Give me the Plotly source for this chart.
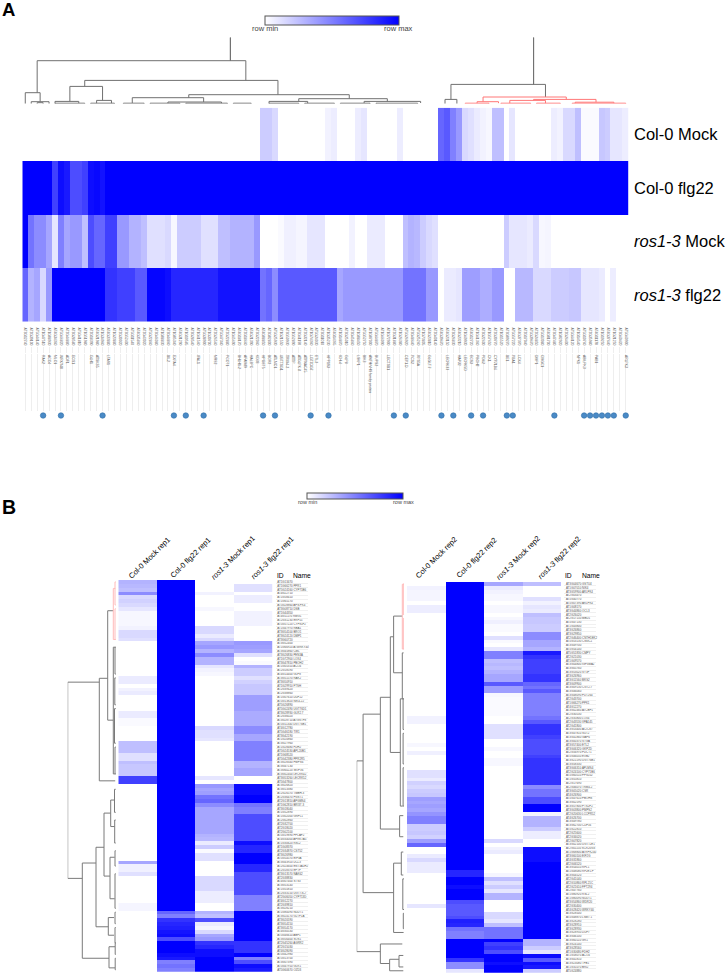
import plotly.graph_objects as go

W, H = 726, 973
BLUE = [[0, "#ffffff"], [1, "#0000ff"]]
FONT = "Liberation Sans"

# ---------- Panel A values (102 genes x 4 conditions) ----------
A_COL_MOCK = [0,0,0,0,0,0,0,0,0,0,0,0,0,0,0,0,0,0,0,0,
              0,0,0,0,0,0,0,0,0,0,0,0,0,0,0,0,0,0,0,0,
              .2,.2,.15,0,0,0,0,0,0,0,0,.05,.07,0,0,0,.07,.1,0,0,
              0,0,0,.07,0,0,0,0,0,0,.6,.65,.5,.4,.15,.12,.08,.05,.03,.25,
              .25,0,.1,0,0,0,0,0,0,.07,.05,.15,.15,.25,.02,.02,.02,.22,.2,.1,
              .1,.07]
A_COL_FLG = [1,1,1,1,1,.75,.95,.9,.7,.7,.75,.95,.97,.93,1,1,1,1,1,1]+[1]*82
A_ROS_MOCK = [1,.55,.45,.45,.35,.1,.5,.35,.4,.4,.25,.7,.6,.6,.75,.75,.4,.4,.3,.3,
              .25,.12,.12,.12,.15,.03,.2,.2,.2,.2,.12,.12,.12,.25,.25,.3,.3,.3,.3,.4,
              0,0,0,.02,.06,.06,.04,.04,.1,.1,.1,0,0,0,0,.05,0,0,.08,.08,
              .08,0,0,0,.25,.3,.28,.2,.15,.12,0,0,0,0,0,0,0,0,0,0,
              0,.2,.1,.1,.1,.08,.15,.03,.04,0,0,0,0,0,0,0,0,0,0,0,
              0,0]
A_ROS_FLG = [.6,.3,.35,.15,.4,1,1,1,1,1,1,1,1,1,.8,.8,.75,.75,.75,.65,
             .65,.98,.98,.98,.95,.85,.85,.85,.85,.85,.85,.85,.85,.93,.93,.93,.93,.93,.93,.93,
             .55,.6,.45,.65,.65,.65,.65,.65,.65,.65,.65,.65,.65,.35,.4,.4,.4,.4,.4,.4,
             .4,.4,.4,.4,.55,.55,.55,.55,.4,.4,0,.08,.08,.1,.38,.38,.38,.32,.32,.4,
             .4,0,0,.28,.28,.28,.15,.15,.15,.2,.2,.2,.22,.22,.1,.1,.1,.08,0,.07,
             0,0]
A_ROWS = ["Col-0 Mock", "Col-0 flg22", "<i>ros1-3</i> Mock", "<i>ros1-3</i> flg22"]
A_IDS = ("AT3G12740 AT2G39100 AT5G44140 AT1G47510 AT1G08930 AT4G34360 AT5G66820 AT2G44880 AT3G28580 AT5G41810 "
         "AT1G51980 AT2G18390 AT4G21980 AT1G34960 AT4G33880 AT1G23880 AT2G30020 AT3G52400 AT5G11540 AT4G35860 "
         "AT2G43020 AT5G22860 AT3G46080 AT1G08830 AT3G44860 AT1G05340 AT4G31290 AT1G10585 AT3G28540 AT1G61560 "
         "AT5G38900 AT1G30700 AT2G26560 AT5G67340 AT2G22880 AT1G65690 AT4G18170 AT2G18660 AT4G21390 AT3G22060 "
         "AT4G08850 AT3G02800 AT5G25930 AT1G21550 AT3G50930 AT1G52890 AT3G61190 AT2G32140 AT1G74360 AT5G24030 "
         "AT3G11010 AT1G35230 AT4G14365 AT1G14870 AT3G25010 AT3G45860 AT1G08450 AT5G52750 AT1G07000 AT5G64870 "
         "AT1G66090 AT1G72900 AT2G31880 AT1G26380 AT5G26920 AT3G48640 AT5G25260 AT1G73805 AT4G23810 AT2G40140 "
         "AT4G39670 AT4G23150 AT3G26830 AT4G23210 AT1G69930 AT4G12720 AT1G61360 AT3G22600 AT1G57650 AT2G30770 "
         "AT1G15520 AT3G09270 AT5G57220 AT4G37370 AT2G17040 AT5G39670 AT2G24850 AT5G13080 AT4G01700 AT3G47480 "
         "AT1G02920 AT2G26400 AT5G64120 AT1G14540 AT5G10760 AT2G35980 AT4G11170 AT1G19250 AT4G37640 AT1G21250 "
         "AT3G60420 AT5G60900").split()
A_NAME_COLS = [3,4,5,6,7,8,11,12,14,24,25,29,32,34,36,37,38,39,40,41,42,43,44,45,46,47,48,49,
               51,53,54,56,57,58,59,61,64,65,66,68,71,73,74,75,76,77,78,79,81,82,83,86,87,93,94,96,101]
A_NAMES = ["RAK2","ACO4","MLO1","WRKY40","ADF1","EOS1","GLH1","ATSKS5","LTAS1","BIL2","EXPA4","IFAL1",
           "MRS2","PCOT1","BHLH1-2","AFAM89","HAL3PC","KD33","HPGST5","BOR2","ATLMO1","UBTTSG1","TRIM4-2",
           "ATTP","ATGLPK 8","ATPNAC45","LGT7DG7","ETL2","HPP1S3","ICH-4","GLP8","LSKP1","BIK3",
           "ANTH/VHS family protein","BUPS2","LECTSB1","OEP1.D","PCS2","RPS5A","GLGLT.7","LECRK33","HAP32",
           "LECRK5D","ECS3","PBOH2","PDX2","CK1","CYP71B6","BE1","PBA1","LOX4","DMP1","CMGC1","NPK1",
           "ABILPK3","PAB1","ARLPK3"]
A_DOT_COLS = [3,6,13,25,27,30,40,42,48,51,62,64,70,72,75,77,81,82,89,94,95,96,97,98,99,101]

# Linkage brackets: (left leaf, right leaf, height, left child height, right child height)
A_TREE_GRAY = [(34.5,34.5,66.3,43,43),(2,37.1,43,11,23.3),(0,2.5,11,0,2),(1,4,2,0,0),(2,3,1,0,0),
               (10,42.5,23.3,17.3,9),(7.5,13,17.3,2.3,3.3),(5,9,2.3,.5,.5),(12,14.5,3.3,.5,.5),
               (27.5,54.5,9,6,5),(18,30,6,.7,1.7),(24,33,1.7,.5,.5),(46,60.9,5,2.3,2.3),(41,47.5,2.3,.5,.5),
               (57,66.5,2.3,.7,.7),(85.5,85.5,66.3,19.3,19.3),(71.6,87.5,19.3,4.3,6.7),(70.6,72.6,4.3,0,0),
               (5,10,.5,0,0),(11,15,.5,0,0),(16.5,20,.5,0,0),(21,26,.5,0,0),(27,34,.5,0,0),(35,38,.5,0,0),
               (41,46,.5,0,0),(47,52,.5,0,0),(53,58,.5,0,0),(59,66,.5,0,0)]
A_TREE_RED = [(77,91,6.7,2,4.3),(76,79.6,2,.5,.5),(85.5,96,4.3,3.3,1.5),(81.5,87.5,3.3,.5,.5),(92.5,99,1.5,.5,.5),
              (74,78,.5,0,0),(80,85,.5,0,0),(86,90,.5,0,0),(92,101,.5,0,0)]

# ---------- Panel B values ----------
B1_COL_MOCK = [.3,.28,.25,.45,.15,.18,.15,.1,.03,.03,.03,.03,.05,.15,.15,.12,0,0,0,0,
               0,0,0,0,0,.08,.08,0,.05,.08,0,0,0,0,.08,.08,.02,.02,0,0,
               0,0,.25,.25,.25,.12,.12,.25,.22,.22,.22,.75,.75,0,0,0,0,0,0,0,
               0,0,0,0,0,0,0,0,0,0,0,0,0,.35,.06,.06,.12,0,0,0,
               0,0,0,0,.04,.04,0,0,0,0,0,0,0,0,0,0,0,0,0,0,
               0,0]
B1_COL_FLG = [1]*86 + [.6,.5,.8,.85,.88,.92,.95,.7,1,1,1,.95,.9,.5,.55,.5]
B1_ROS_MOCK = [0,0,0,.05,0,0,0,.03,0,0,0,0,.15,.15,.08,.15,.35,.4,.3,.45,
               .3,.3,.1,.05,.03,0,0,0,0,0,0,0,0,0,0,0,0,0,.15,.12,
               .12,.1,0,0,0,0,0,0,0,0,0,.1,0,.4,.35,.38,.55,.6,.45,.35,
               .35,.35,.35,.35,.35,.35,.3,.28,.08,.2,.02,.12,.12,0,0,0,0,.15,.15,.15,
               .15,.07,.07,.07,0,0,.3,.25,.7,.08,.04,.15,.35,.4,.8,.85,.95,.95,1,1,
               1,1]
B1_ROS_FLG = [0,.12,.12,0,.07,.07,0,0,.05,.05,.05,.05,0,0,0,0,.4,.38,.35,.12,
              0,.02,.3,.2,.2,.12,.18,.22,.22,.22,.38,.38,.38,.38,.33,.33,.33,.33,.45,.45,
              .35,.35,.5,.5,.5,.5,.5,.3,.3,.35,.35,0,0,.95,.95,.95,1,1,.55,.5,
              .5,.7,.7,.7,.7,.7,.7,.7,.95,.85,.85,1,1,1,.85,.85,.7,.7,.7,.7,
              .7,.7,.5,.5,.5,.5,1,1,1,1,1,1,1,1,.8,.8,.8,1,.5,.7,
              .95,.9]
B2_COL_MOCK = [0,.05,.04,.04,.04,0,.07,.07,0,0,0,0,0,0,0,0,0,0,0,0,
               0,0,0,0,0,0,0,0,0,0,0,0,0,0,0,.05,.05,0,0,0,
               0,0,.03,0,.06,0,0,0,0,.12,.12,.08,.18,.15,.2,.22,.38,.35,.38,.35,
               .42,.5,.5,.2,.2,.22,.18,.38,.6,0,0,.08,.15,.08,.08,.08,0,0,0,0,
               0,0,0,0,.1,0,0,0,0,0,0,0,0,0,0,0,0,0,0,0,
               0,0]
B2_COL_FLG = [1]*75 + [.85,.85,1,1,.95,1,1,1,.7,.65,.65,.65,.7,.88,.85,.55,.5,.5,1,1,1,1,1,.8,.45,.45,.1]
B2_ROS_MOCK = [.35,.08,.05,.03,.03,0,.03,.03,0,.03,.06,.02,.02,0,.12,.02,0,.1,.5,.5,
               .25,.28,.25,.3,.35,.35,.65,.38,.38,.03,.02,.02,.02,.02,.02,0,0,.12,.12,.12,
               .12,0,0,.03,0,0,.03,.03,0,0,0,0,0,0,0,0,0,0,0,0,
               0,0,0,0,0,0,0,.15,0,.05,.08,0,0,0,0,0,.04,.25,.12,.2,
               .1,.3,.3,0,0,0,.15,.15,.1,.25,.55,.55,.55,1,.75,.8,.7,1,1,.95,
               1,1]
B2_ROS_FLG = [.25,0,0,0,.12,.05,.1,.08,.25,.22,.22,.2,.2,.45,.45,.35,.35,.3,.9,.8,
              .75,.75,.75,.75,.8,.8,.6,.55,.65,.5,.5,.5,.5,.5,.5,.55,.65,.8,.8,.8,
              .75,.7,.7,.7,.7,.75,.8,.8,.8,.8,.8,.8,.8,.45,.55,.55,.7,.7,1,1,
              .05,.3,.3,.3,.2,.07,.07,0,0,.95,.95,.95,.95,1,1,1,1,1,1,1,
              1,1,1,1,1,1,1,1,1,1,1,1,1,.3,.3,.2,.1,.95,.65,.95,
              .9,.2]
B_COLS1 = ["Col-0 Mock rep1", "Col-0 flg22 rep1", "<i>ros1-3</i> Mock rep1", "<i>ros1-3</i> flg22 rep1"]
B_COLS2 = ["Col-0 Mock rep2", "Col-0 flg22 rep2", "<i>ros1-3</i> Mock rep2", "<i>ros1-3</i> flg22 rep2"]
B1_IDS = ["AT1G13470","AT1G66270 PPR1","AT5G24160 CYP71B6","AT4G22710","AT1G58410","AT1G65170","AT5G28860 APS.PK4",
 "AT3G08710 DSB","AT1G44350","AT4G11170 RMG1","AT2G31230 ERF15","AT5G57220 CYP81F2","AT1G47970 RBA1","AT3G54100 BRO1",
 "AT3G24120 DMP1","AT3G60720","AT3G52400","AT1G66920 ATWRKY40","AT3G45860 CML","AT3G26830 PEN3A","AT1G72900 LOX4",
 "AT3G47810 PBOH2","AT1G05310 ACO4","AT2G18590","AT4G14400 GLP8","AT3G51570 RAK2","AT3G50910","AT1G29910 FTSH",
 "AT2G39420","AT2G38860","AT1G07610 DUF22","AT5G13820 NIK4-22","AT5G26890","AT5G02490 UGT76D1","AT3G28930 GLR2.7",
 "AT2G36020","AT3G28710 ATGSTF8","AT5G11340 UGT76B1","AT4G12780","AT5G46180 TIR1","AT3G42190","AT1G20860",
 "AT3G27960","AT1G28480 FDH2","AT5G24530 APL20B1","AT1G68520","AT5G42380 PPR2R5","AT3G28340 PMPS6","AT3G47130",
 "AT3G60220 SKIP36","AT3G02400 LECRK42","AT3G53260 LECRK52","AT5G47800","AT3G26820","AT3G13380","AT2G26570 TMBH-3",
 "AT2G36470 PGST1","AT2G13810 APGMS4","AT1G62810 BRI37-3","AT3G18040","AT1G52890","AT1G02000 GRPL1","AT2G02860",
 "AT2G32700","AT2G18020","AT2G02100","AT5G19890 PPLAP2","AT4G34000 APRK7A5","AT1G30620 RSL2","AT1G08370","AT2G34870 CST52",
 "AT3G26980","AT5G54570 EIF3A","AT3G43920 DCL3","AT2G24600 ENT3A1H2","AT2G18370 EFTF","AT3G13570 NAK62","AT2G38830",
 "AT4G07400 STS3","AT3G53140","AT1G55810","AT2G33150 UGT73C7","AT2G06050 CYP713D","AT4G12270","AT2G39810","AT3G28210",
 "AT1G80090 NUDT1","AT3G24170 G2TF1A","AT3G20590","AT3G54150","AT3G54170","AT4G30530","AT5G46610 ABF1","AT3G56400 SOS1",
 "AT2G45260 AGRR2","AT2G15030","AT4G28090","AT5G42980","AT5G13700","AT3G07390","AT5G47910 GLR1","AT5G60670 OZD3"]
B2_IDS = ["AT3G04670 GSTU4","AT1G07010 NIK4","AT3G59900 ARLPK4","AT2G03470","AT5G40770","AT5G07390 ARLPK4","AT1G08170",
 "AT3G44860 OCL3","AT2G26020","AT2G17150 MBD1","AT5G47130","AT1G43800","AT3G26860","AT3G29850","AT2G46400 CNTH1EK2",
 "AT5G53130 CNGC1","AT3G49700","AT5G54140","AT5G51830 CMPY","AT2G21030","AT1G09570","AT3G04800 IGF3MA2","AT3G05760",
 "AT3G53020 SY3F","AT3G26960","AT3G11560 MKS2","AT3G09900","AT3G09130 CGT2.7","AT3G46060","AT3G48090 PDT264","AT2G43700",
 "AT1G66270 PPK1","AT4G12270","AT3G02460 ATCBP1","AT2G30530","AT2G35800 LOX4","AT2G43530 VPA145","AT2G41800",
 "AT3G53400 AT2CS7","AT3G47810 SUT2","AT3G41860 GAP6","AT3G00370 STGA","AT3G57400 ETL2","AT3G06320 GKP2D","AT2G56970 PDCT1",
 "AT5G46050 EXB2","AT3G21590 UGT76B1","AT3G58330","AT3G06310 APLMS4","AT2G24100 CYP71B6","AT5G60510 PPS102","AT1G55810",
 "AT2G17690","AT2G46070 TRM4-2","AT3G05020 CSR","AT4G26900","AT5G47610 PBOHS","AT3G02590","AT3G57800 PTS2P2","AT3G03800 PMPS2",
 "AT2G20630 LCCPR52","AT4G26700","AT3G49780","AT3G62700 CDF16","AT5G22810","AT2G25600","AT2G34020","AT2G07820",
 "AT3G02100 UGT72E1","AT2G01150 SCR20G3","AT1G68800 ATRPK240","AT3G60100 EIF2G","AT4G31860","AT2G06520","AT3G54010 RPL1",
 "AT1G48080 RF2E1.P","AT3G04520","AT2G41040","AT2G10860 RPL21C","AT2G21610 FPT294","AT2G47760","AT1G80920 RSL2",
 "AT1G80090 NUDT1","AT3G54860 WDR20","AT2G30400","AT4G28420 WRKY40","AT3G28500","AT5G48870 LSM7.1","AT3G28280","AT3G28910",
 "AT3G28930","AT3G28950 DUF7","AT3G46100","AT3G60110 GR1","AT3G24140","AT3G28560","AT1G30680 FDH2","AT1G58070 ACO4",
 "AT3G41810","AT3G23080 TFB1","AT1G31070 BRI2","AT5G24880"]
B1_TREE_GRAY = [(26.1,77.2,48.3,16.7,33.7),(25.1,51.8,16.7,8.3,.8),(7.5,36,8.3,2.7,2.7),(17,50,2.7,.7,.7),
                (17,24,1,.2,.2),(25,32,1.2,.2,.2),(33,42,1.5,.2,.2),(43,50,1,.2,.2),
                (73.2,98,33.7,20,7),(69.1,89.8,20,12,7.7),(60.2,76.6,12,5.3,6),(56.8,63.7,5.3,1.5,1.5),
                (71.7,82.5,6,1.3,1.3),(87.4,92,7.7,2,2),(95,100.5,7,1,1),(54,60,1.5,.3,.3),(62,68,1.3,.3,.3),
                (70,74,1,.3,.3),(76,85,1,.3,.3),(86,89,1,.3,.3),(90,94,1,.3,.3),(94,97,.8,.2,.2),(98,101,.8,.2,.2)]
B1_TREE_RED = [(1.7,15,2.7,.7,.7),(0,6,1,.2,.2),(7,15,1,.2,.2)]
B2_TREE_GRAY = [(46.2,96,47.7,41.3,24),(34,80.6,41.3,24,10.7),(29.6,64,24,14,4.7),(13.8,44,14,10.7,4),
                (8.4,23.2,10.7,2,2),(18,30,2,.7,.7),(30,58,4,1.5,1.5),(60.5,66,4.7,1,1),(72.9,91,10.7,3,.7),
                (70,76,3,1,1),(77,85,1.5,.3,.3),(86,90,1,.3,.3),(94,99.1,24,2,14.7),(98,101,14.7,5.3,1),(97,100,5.3,1,1),
                (30,38,1.2,.3,.3),(39,47,1.2,.3,.3),(48,58,1.2,.3,.3)]
B2_TREE_RED = [(.1,17,2,.7,.7),(0,8,1,.2,.2),(9,17,1,.2,.2)]

for arr in (A_COL_MOCK, A_COL_FLG, A_ROS_MOCK, A_ROS_FLG, A_IDS, B1_COL_MOCK, B1_COL_FLG, B1_ROS_MOCK, B1_ROS_FLG,
            B2_COL_MOCK, B2_COL_FLG, B2_ROS_MOCK, B2_ROS_FLG, B1_IDS, B2_IDS):
    assert len(arr) == 102, len(arr)
assert len(A_NAME_COLS) == len(A_NAMES)


def dx(a, b):
    return [a / W, b / W]


def dy(top, bottom):
    return [1 - bottom / H, 1 - top / H]


def tree_xy(brackets):
    xs, ys = [], []
    for a, b, h, ha, hb in brackets:
        xs += [a, a, b, b, None]
        ys += [ha, h, h, hb, None]
    return xs, ys


fig = go.Figure()
HIDE = dict(showgrid=False, zeroline=False, showticklabels=False, ticks="", showline=False)
AX = [-0.5, 101.5]
IDX = list(range(102))

# Panel A heatmap
fig.add_trace(go.Heatmap(z=[A_COL_MOCK, A_COL_FLG, A_ROS_MOCK, A_ROS_FLG], x=IDX, y=[0, 1, 2, 3], zmin=0, zmax=1,
                         colorscale=BLUE, xaxis="x", yaxis="y", hoverinfo="skip",
                         colorbar=dict(orientation="h", x=264.7 / W, xanchor="left", y=1 - 16 / H, yanchor="top",
                                       len=134.3 / W, lenmode="fraction", thickness=8.5, thicknessmode="pixels",
                                       xpad=0, ypad=0, outlinecolor="#555", outlinewidth=1, showticklabels=False, ticks="")))
# Panel A dendrogram
for tree, col in ((A_TREE_GRAY, "#707070"), (A_TREE_RED, "#f77")):
    xs, ys = tree_xy(tree)
    fig.add_trace(go.Scatter(x=xs, y=ys, mode="lines", line=dict(color=col, width=1), xaxis="x2", yaxis="y2", hoverinfo="skip"))
# Panel A gene-name axis carrier and dots
fig.add_trace(go.Scatter(x=A_NAME_COLS, y=[0.5] * len(A_NAME_COLS), mode="markers", marker=dict(size=1, color="rgba(0,0,0,0)"),
                         xaxis="x4", yaxis="y4", hoverinfo="skip"))
fig.add_trace(go.Scatter(x=A_DOT_COLS, y=[0.5] * len(A_DOT_COLS), mode="markers", cliponaxis=False,
                         marker=dict(size=5.5, color="#4a8ac6", line=dict(color="#2f6ea8", width=0.6)),
                         xaxis="x11", yaxis="y11", hoverinfo="skip"))
fig.add_trace(go.Scatter(x=[0, 101], y=[0.5, 0.5], mode="markers", marker=dict(size=1, color="rgba(0,0,0,0)"),
                         xaxis="x3", yaxis="y3", hoverinfo="skip"))
# Panel B heatmaps
bcfg = [(B1_COL_MOCK, B1_COL_FLG, B1_ROS_MOCK, B1_ROS_FLG, "x5", "y5"),
        (B2_COL_MOCK, B2_COL_FLG, B2_ROS_MOCK, B2_ROS_FLG, "x8", "y8")]
for k, (a, b, c, d, xa, ya) in enumerate(bcfg):
    kw = {}
    if k == 0:
        kw = dict(colorbar=dict(orientation="h", x=307.3 / W, xanchor="left", y=1 - 492.7 / H, yanchor="top",
                                len=96.4 / W, lenmode="fraction", thickness=6, thicknessmode="pixels",
                                xpad=0, ypad=0, outlinecolor="#555", outlinewidth=1, showticklabels=False, ticks=""))
    fig.add_trace(go.Heatmap(z=[list(r) for r in zip(a, b, c, d)], x=[0, 1, 2, 3], y=IDX, zmin=0, zmax=1, colorscale=BLUE,
                             showscale=(k == 0), xaxis=xa, yaxis=ya, hoverinfo="skip", **kw))
# Panel B dendrograms (height on x, row on y)
for tree, col, xa, ya in ((B1_TREE_GRAY, "#7a7a7a", "x6", "y6"), (B1_TREE_RED, "#fbb", "x6", "y6"),
                          (B2_TREE_GRAY, "#7a7a7a", "x9", "y9"), (B2_TREE_RED, "#fbb", "x9", "y9")):
    ys, xs = tree_xy(tree)
    fig.add_trace(go.Scatter(x=xs, y=ys, mode="lines", line=dict(color=col, width=1), xaxis=xa, yaxis=ya, hoverinfo="skip"))
# Row underline strips carry a transparent point so their axes are drawn
for xa, ya in (("x7", "y7"), ("x10", "y10")):
    fig.add_trace(go.Scatter(x=[0.5], y=[50], mode="markers", marker=dict(size=1, color="rgba(0,0,0,0)"), xaxis=xa, yaxis=ya, hoverinfo="skip"))

RY = [101.5, -0.5]
fig.update_layout(
    width=W, height=H, margin=dict(l=0, r=0, t=0, b=0, autoexpand=False), paper_bgcolor="white", plot_bgcolor="white",
    showlegend=False, font=dict(family=FONT, color="black"),
    xaxis=dict(domain=dx(22.3, 628.7), range=AX, tickmode="array", tickvals=IDX, ticktext=A_IDS, tickangle=90,
               tickfont=dict(size=3.4, color="#555"), ticks="outside", ticklen=4, tickcolor="rgba(0,0,0,0)",
               showgrid=False, zeroline=False),
    yaxis=dict(domain=dy(107.7, 321.7), range=[3.5, -0.5], side="right", tickmode="array", tickvals=[0, 1, 2, 3],
               ticktext=A_ROWS, tickfont=dict(size=16.5, color="black"), ticks="outside", ticklen=1,
               tickcolor="rgba(0,0,0,0)", showgrid=False, zeroline=False),
    xaxis2=dict(domain=dx(22.3, 628.7), range=AX, anchor="y2", **HIDE),
    yaxis2=dict(domain=dy(37.3, 103.7), range=[0, 66.4], anchor="x2", **HIDE),
    xaxis3=dict(domain=dx(22.3, 628.7), range=AX, anchor="y3", tickmode="array", tickvals=IDX, showgrid=True,
                gridcolor="#eeeeee", gridwidth=0.7, zeroline=False, showticklabels=False, ticks="", showline=False),
    yaxis3=dict(domain=dy(347, 412), range=[0, 1], anchor="x3", **HIDE),
    xaxis4=dict(domain=dx(22.3, 628.7), range=AX, anchor="y4", tickmode="array", tickvals=A_NAME_COLS, ticktext=A_NAMES,
                tickangle=90, tickfont=dict(size=3.4, color="#555"), ticks="", showgrid=False, zeroline=False, showline=False),
    yaxis4=dict(domain=dy(353, 354), range=[0, 1], anchor="x4", **HIDE),
    xaxis11=dict(domain=dx(22.3, 628.7), range=AX, anchor="y11", **HIDE),
    yaxis11=dict(domain=dy(411, 420), range=[0, 1], anchor="x11", **HIDE),
    xaxis5=dict(domain=dx(118.3, 272.7), range=[-0.5, 3.5], anchor="y5", **HIDE),
    yaxis5=dict(domain=dy(580, 971.7), range=RY, anchor="x5", side="right", tickmode="array", tickvals=IDX, ticktext=B1_IDS,
                tickfont=dict(size=2.9, color="#555"), ticks="outside", ticklen=3, tickcolor="rgba(0,0,0,0)",
                showgrid=False, zeroline=False),
    xaxis6=dict(domain=dx(67.7, 116), range=[48.3, 0], anchor="y6", **HIDE),
    yaxis6=dict(domain=dy(580, 971.7), range=RY, anchor="x6", **HIDE),
    xaxis7=dict(domain=dx(276, 308), range=[0, 1], anchor="y7", **HIDE),
    yaxis7=dict(domain=dy(580, 971.7), range=RY, anchor="x7", tickmode="array", tickvals=[i + 0.5 for i in IDX], showgrid=True,
                gridcolor="#f0f0f0", gridwidth=0.6, zeroline=False, showticklabels=False, ticks="", showline=False),
    xaxis8=dict(domain=dx(407, 561.3), range=[-0.5, 3.5], anchor="y8", **HIDE),
    yaxis8=dict(domain=dy(582, 972.7), range=RY, anchor="x8", side="right", tickmode="array", tickvals=IDX, ticktext=B2_IDS,
                tickfont=dict(size=2.9, color="#555"), ticks="outside", ticklen=3, tickcolor="rgba(0,0,0,0)",
                showgrid=False, zeroline=False),
    xaxis9=dict(domain=dx(356.7, 404.3), range=[47.7, 0], anchor="y9", **HIDE),
    yaxis9=dict(domain=dy(582, 972.7), range=RY, anchor="x9", **HIDE),
    xaxis10=dict(domain=dx(564, 596), range=[0, 1], anchor="y10", **HIDE),
    yaxis10=dict(domain=dy(582, 972.7), range=RY, anchor="x10", tickmode="array", tickvals=[i + 0.5 for i in IDX], showgrid=True,
                 gridcolor="#f0f0f0", gridwidth=0.6, zeroline=False, showticklabels=False, ticks="", showline=False),
)

notes = [dict(text="<b>A</b>", x=0.5 / W, y=1 - 9.5 / H, xanchor="left", yanchor="middle", font=dict(size=18.5), xref="paper", yref="paper"),
         dict(text="<b>B</b>", x=0.5 / W, y=1 - 507 / H, xanchor="left", yanchor="middle", font=dict(size=19.5), xref="paper", yref="paper")]
for t, cx, cy, sz in (("row min", 264.7, 28.8, 7.5), ("row max", 399, 28.8, 7.5), ("row min", 307.3, 501.8, 5.5), ("row max", 403.7, 501.8, 5.5)):
    notes.append(dict(text=t, x=cx / W, y=1 - cy / H, xref="paper", yref="paper", xanchor="center", yanchor="middle",
                      font=dict(size=sz, color="#444")))
B1_OFFS = [.32, 1.375, 2.48, 3.5]
B2_OFFS = [.26, 1.31, 2.39, 3.45]
for labs, offs, xa in ((B_COLS1, B1_OFFS, "x5"), (B_COLS2, B2_OFFS, "x8")):
    for t, o in zip(labs, offs):
        notes.append(dict(text=t, x=o, y=1 - 557.7 / H, xref=xa, yref="paper", textangle=-45, xanchor="center", yanchor="middle",
                          font=dict(size=7.5)))
for xid, xname in ((276, 292.3), (564, 580.7)):
    notes.append(dict(text="ID", x=xid / W, y=1 - 575.3 / H, xref="paper", yref="paper", xanchor="left", yanchor="middle", font=dict(size=6.7)))
    notes.append(dict(text="Name", x=xname / W, y=1 - 575.3 / H, xref="paper", yref="paper", xanchor="left", yanchor="middle", font=dict(size=6.7)))
for n in notes:
    n["showarrow"] = False
    n["borderpad"] = 0
fig.update_layout(annotations=notes)

fig.write_html("out.html", config={"displayModeBar": False},
               post_script="document.body.style.margin='0';document.body.style.overflow='hidden';")
